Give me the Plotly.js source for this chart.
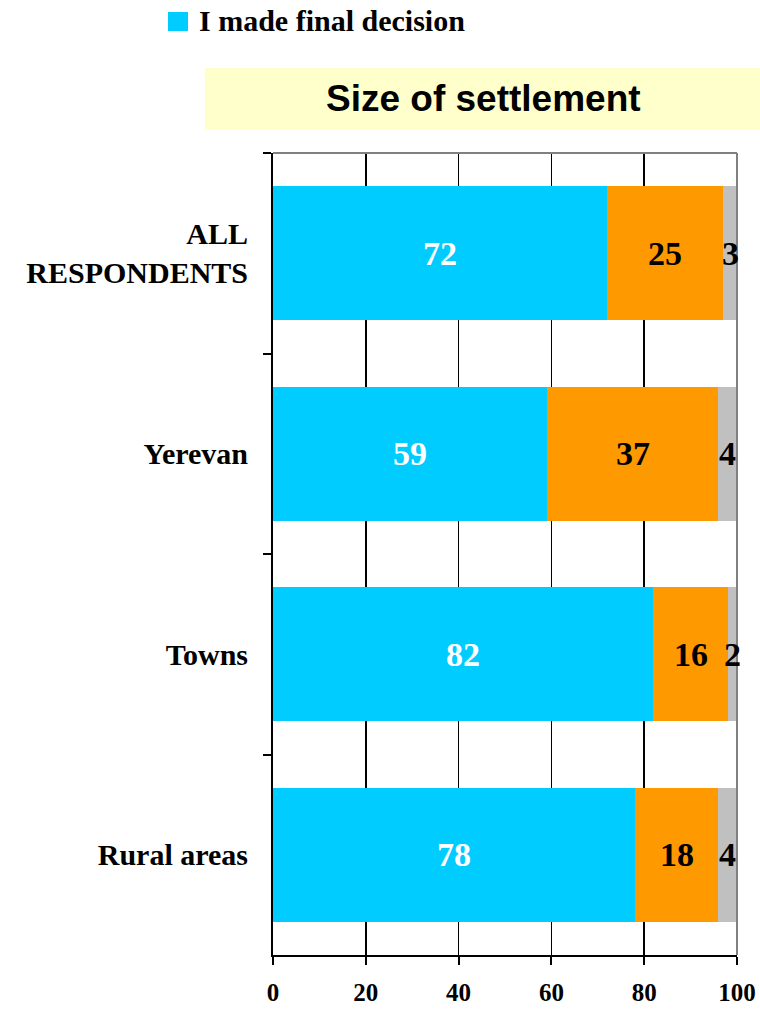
<!DOCTYPE html>
<html>
<head>
<meta charset="utf-8">
<script src="https://cdn.plot.ly/plotly-3.0.1.min.js"></script>
<style>html,body{margin:0;padding:0;background:#fff;}#chart{width:760px;height:1010px;}</style>
</head>
<body>
<div id="chart"></div>
<script>
const categories = ["ALL<br>RESPONDENTS", "Yerevan", "Towns", "Rural areas"];
const seriesNames = ["I made final decision", "Someone else made final decision", "Don't know"];
const madeDecision = [72, 59, 82, 78];
const someoneElse = [25, 37, 16, 18];
const dontKnow = [3, 4, 2, 4];
const xTicks = [0, 20, 40, 60, 80, 100];
const chartTitle = "Size of settlement";

const serif = "Liberation Serif, Times New Roman, serif";
const colors = ["#00CCFF", "#FF9900", "#C0C0C0"];
const labelColors = ["#FFFFFF", "#000000", "#000000"];
const series = [madeDecision, someoneElse, dontKnow];

const data = series.map((vals, i) => ({
  type: "bar", orientation: "h", name: seriesNames[i],
  y: categories, x: vals,
  marker: {color: colors[i], line: {width: 0}},
  showlegend: false, hoverinfo: "x+name"
}));

// value labels centred on each stacked segment (positions derived from data)
const labelAnns = [];
categories.forEach((cat, j) => {
  let base = 0;
  series.forEach((vals, i) => {
    labelAnns.push({
      xref: "x", yref: "y", x: base + vals[j] / 2, y: cat, text: String(vals[j]),
      showarrow: false, xanchor: "center", yanchor: "middle",
      font: {family: serif, size: 34, color: labelColors[i], weight: "bold"}
    });
    base += vals[j];
  });
});

const layout = {
  width: 760, height: 1010,
  margin: {l: 273, r: 23, t: 153, b: 55},
  paper_bgcolor: "#FFFFFF", plot_bgcolor: "#FFFFFF",
  barmode: "stack", bargap: 0.33,
  showlegend: false,
  xaxis: {range: [0, 100], tickvals: xTicks, ticks: "outside", ticklen: 8, tickcolor: "#000", tickwidth: 2,
    showgrid: true, gridcolor: "#000", gridwidth: 1.5, zeroline: false,
    showline: true, linecolor: "#000", linewidth: 2, ticklabelstandoff: 6,
    tickfont: {family: serif, size: 25, color: "#000", weight: "bold"}, fixedrange: true},
  yaxis: {autorange: "reversed", tickson: "boundaries", ticks: "outside", ticklen: 8, tickcolor: "#000", tickwidth: 2,
    showline: true, linecolor: "#000", linewidth: 2, showgrid: false, ticklabelstandoff: 17,
    tickfont: {family: serif, size: 30, color: "#000", weight: "bold"}, fixedrange: true},
  shapes: [
    {type: "rect", xref: "paper", yref: "paper", x0: -0.147, x1: 1.06, y0: 1.0287, y1: 1.106,
     fillcolor: "#FFFFCC", line: {width: 0}, layer: "below"},
    {type: "line", xref: "paper", yref: "paper", x0: 0, x1: 1, y0: 1, y1: 1, line: {color: "#808080", width: 2}},
    {type: "line", xref: "paper", yref: "paper", x0: 1, x1: 1, y0: 0, y1: 1, line: {color: "#808080", width: 2}},
    // legend swatch
    {type: "rect", xref: "paper", yref: "paper", x0: -0.2263, x1: -0.1832, y0: 1.152, y1: 1.1758,
     fillcolor: colors[0], line: {width: 0}}
  ],
  annotations: [
    {text: chartTitle, xref: "paper", yref: "paper", x: 0.453, y: 1.0674, showarrow: false,
     xanchor: "center", yanchor: "middle",
     font: {family: "Liberation Sans, Arial, sans-serif", size: 37, color: "#000", weight: "bold"}},
    {text: seriesNames[0], xref: "paper", yref: "paper", x: -0.1638, y: 1.1646, showarrow: false,
     xanchor: "left", yanchor: "middle",
     font: {family: serif, size: 30, color: "#000", weight: "bold"}}
  ].concat(labelAnns)
};
Plotly.newPlot("chart", data, layout, {displayModeBar: false, staticPlot: true});
</script>
</body>
</html>
